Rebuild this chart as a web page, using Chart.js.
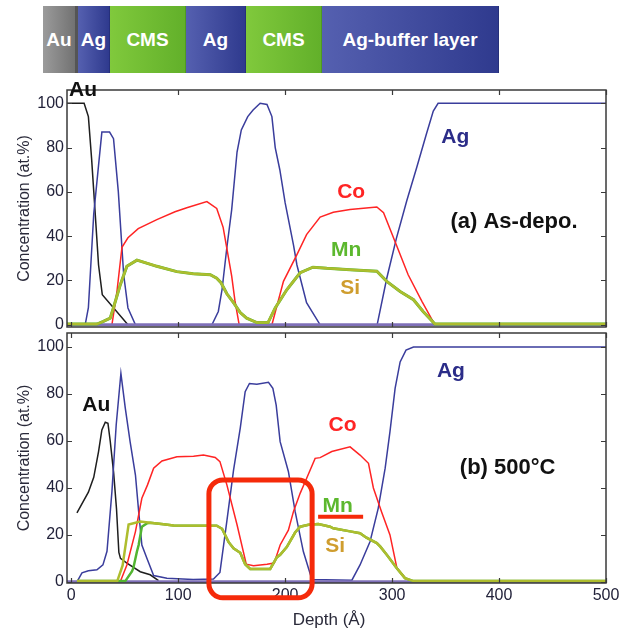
<!DOCTYPE html>
<html>
<head>
<meta charset="utf-8">
<script src="https://cdn.jsdelivr.net/npm/chart.js@4.4.1/dist/chart.umd.min.js"></script>
<style>
  body { margin: 0; background: #fff; }
  #wrap { position: relative; width: 626px; height: 635px; font-family: "Liberation Sans", Arial, sans-serif; }
  canvas { position: absolute; left: 0; }
  .seg { position: absolute; top: 6px; height: 67px; color: #fff; font-weight: bold; font-size: 19px;
         display: flex; align-items: center; justify-content: center; box-sizing: border-box; }
  .au  { background: linear-gradient(to right, #9b9b9b, #727272); border-right: 3px solid #555; }
  .ag  { background: linear-gradient(to right, #5560b0, #2f3a8e); border-right: 1px solid #26307a; }
  .cms { background: linear-gradient(to right, #80c93c, #62b02a); border-right: 1px solid #4e9a20; }
</style>
</head>
<body>
<div id="wrap">
  <div class="seg au"  style="left:43px;width:35px">Au</div>
  <div class="seg ag"  style="left:78px;width:32px">Ag</div>
  <div class="seg cms" style="left:110px;width:76px">CMS</div>
  <div class="seg ag"  style="left:186px;width:60px">Ag</div>
  <div class="seg cms" style="left:246px;width:76px">CMS</div>
  <div class="seg ag"  style="left:322px;width:177px">Ag-buffer layer</div>
  <canvas id="asDepo" width="626" height="257" style="top:75px"></canvas>
  <canvas id="annealed" width="626" height="303" style="top:332px"></canvas>
</div>
<script>
// depth (Å), concentration (at.%)
const depthTicks = [0, 100, 200, 300, 400, 500];
const concTicks = [0, 20, 40, 60, 80, 100];

// (a) as-deposited profiles
const auA = [[-4,100],[12,100],[16,94],[19,75],[22,53],[25.5,27],[29,13.6],[53,0],[500,0]];
const agA = [[-4,0],[13,0],[16,7.7],[21,50],[25.5,72],[28.6,87],[35.8,87],[39.5,84],[44,60],[49,22.6],[53,7.6],[60,0],
  [131.5,0],[137.5,6],[141,16],[145.5,35],[150,52],[155,78],[159,88],[165,94],[170,97],[176.6,100],[183,99.5],
  [187.6,94],[190.7,80],[195,70],[200,55],[207.8,36],[211,27],[220,10],[232.7,0],
  [286,0],[295,21],[304,39],[313.7,56],[323,71],[332,86],[338.5,96.5],[343,100],[500,100]];
const coA = [[-4,0],[38,0],[42.7,15],[47.4,35],[53,39.3],[62.6,43.4],[80,47.5],[97,51],[108,52.8],[126.8,55.6],
  [136,52.5],[142,44],[146,33],[150,22],[153,11],[157,0],
  [187.6,0],[198.4,19.6],[211,31.7],[220,40.7],[232.7,48.6],[245,50.8],[260.7,52],[285.7,53.2],[292,50.6],
  [304,36],[315,22.6],[328,10.5],[340,0],[500,0]];
const mnA = [[-4,0.3],[24,0.3],[30,1.5],[36.4,3],[39,7],[45.8,18],[52,26.4],[61.4,29.2],[80,26.4],[98.7,24],[114,23],
  [130,22.6],[136,21],[140,19],[145.5,14],[151.7,10],[158,5.5],[164,3],[173.5,1],[184,1],[190.7,7.6],[201.5,15.8],
  [214,23.5],[226,26],[239,25.5],[260.7,24.9],[285.7,24.2],[295,19.6],[307.5,15],[320,11.3],[329,6],[340,0.3],[500,0.3]];
const siA = [[-4,0.3],[24,0.3],[30,1.5],[36.4,3],[39,7],[45.8,18],[52,26.4],[61.4,29.2],[80,26.4],[98.7,24],[114,23],
  [130,22.6],[136,21],[140,19],[145.5,14],[151.7,10],[158,5.5],[164,3],[173.5,1],[184,1],[190.7,7.6],[201.5,15.8],
  [214,23.5],[226,26],[239,25.5],[260.7,24.9],[285.7,24.2],[295,19.6],[307.5,15],[320,11.3],[329,6],[340,0.3],[500,0.3]];

// (b) after 500 °C anneal
const auB = [[5.3,29.4],[16,38.2],[21,44.5],[25.5,55.5],[28.6,64.7],[31.8,68],[34.3,67.5],[36.4,60],[39.6,46.5],
  [42.3,31],[44.5,12.5],[46,10],[52,8],[64.5,4.3],[73.8,3],[81.6,0.5]];
const agB = [[5.3,0],[10,3.8],[16,4.7],[24,5.1],[29.6,7.2],[33.4,13],[38,38.4],[42,66.8],[46.4,88.8],[50.5,74],
  [55,59.7],[60,45.5],[63,30],[66,15.7],[70.7,10],[77,2.7],[89.4,1.5],[114,1],[133,1.2],[139,4],[145.5,26],
  [151.7,47.5],[158,65.5],[162.6,81],[166.6,84.5],[173.5,84.2],[184.4,85],[188.5,82.4],[191.6,75.3],[195.3,59.7],
  [203,47],[209.3,30],[217,12.9],[225,1],[262.4,0.7],[270,7.2],[279.4,17.2],[287,31.3],[293.5,48.4],[298,64],
  [302.8,82.4],[307.5,93.7],[313,98.7],[320,100],[500,100]];
const coB = [[5.3,0],[45.8,0],[52,7.2],[60,21.4],[66,35.6],[71.3,41.3],[77,48.4],[84.8,51.5],[98.8,53.3],[114.3,53.5],
  [123.6,54],[134.6,53],[139,51.2],[145.5,41.3],[155,24.3],[163.6,7.5],[170.4,6.9],[183,7.5],[189.7,8],[195.3,15.7],
  [203,22],[207.8,30],[214,37.7],[220,44],[228,52.6],[232.7,52.9],[243.6,55.5],[260.7,57.5],[270,54],[277.9,50.5],
  [282.5,40],[290,30],[298,20],[304.4,6],[312,1.7],[320,0],[500,0]];
const mnB = [[5.3,0.3],[50.5,0.3],[56.7,4.4],[58,5.8],[61.4,12.9],[63,15.7],[66,23.5],[71,25],[73.8,25.2],[86.3,24.5],
  [95.6,24],[136,23.9],[141,22.6],[147,17],[151.7,14.3],[158,12.4],[162.6,7.5],[167.3,5.5],[186,5.5],[192.3,10.5],
  [195.3,11.5],[201.5,14.8],[209.3,21],[214,23.5],[221.8,24.3],[231,24.6],[242,23.5],[245,22.8],[260.7,21.5],
  [270,20.7],[276,18.8],[285.7,16.5],[289,15],[295,11.5],[304.4,5.8],[312,1.6],[320,0.3],[500,0.3]];
const siB = [[5.3,0.3],[43,0.3],[48,7],[53.6,24.4],[64.5,25.7],[73.8,25.2],[86.3,24.5],[95.6,24],[136,23.9],
  [141,22.6],[147,17],[151.7,14.3],[158,12.4],[162.6,7.5],[167.3,5.5],[186,5.5],[192.3,10.5],[195.3,11.5],
  [201.5,14.8],[209.3,21],[214,23.5],[221.8,24.3],[231,24.6],[242,23.5],[245,22.8],[260.7,21.5],[270,20.7],
  [276,18.8],[285.7,16.5],[289,15],[295,11.5],[304.4,5.8],[312,1.6],[320,0.3],[500,0.3]];

// flat trace along the bottom of both panels
const baseline = [[-4,0],[500,0]];

const colors = {
  au: '#1e1e1e', ag: '#3a3d9c', co: '#ff2424', mn: '#52b531', si: '#aebd2e', base: '#7f70b8',
  agText: '#2b2c88', mnText: '#5cb82e', siText: '#cf9d2e', mark: '#f52a0a'
};

const labelsA = [
  {text: 'Au', x: 11, y: 106.1, color: '#111', size: 21},
  {text: 'Ag', x: 359, y: 84.6, color: colors.agText, size: 21},
  {text: 'Co', x: 261.7, y: 59.7, color: colors.co, size: 21},
  {text: '(a) As-depo.', x: 414, y: 46.6, color: '#111', size: 22},
  {text: 'Mn', x: 257, y: 33.5, color: colors.mnText, size: 21},
  {text: 'Si', x: 260.7, y: 16.7, color: colors.siText, size: 21}
];
const labelsB = [
  {text: 'Au', x: 23.4, y: 75.3, color: '#111', size: 21},
  {text: 'Ag', x: 355, y: 89.8, color: colors.agText, size: 21},
  {text: 'Co', x: 253.7, y: 66.8, color: colors.co, size: 21},
  {text: '(b) 500°C', x: 408, y: 48.5, color: '#111', size: 22},
  {text: 'Mn', x: 249, y: 32.3, color: colors.mnText, size: 21},
  {text: 'Si', x: 246.7, y: 15.3, color: colors.siText, size: 21}
];

Chart.defaults.font.family = '"Liberation Sans", Arial, sans-serif';

function trace(data, color, width) {
  return {data: data, borderColor: color, borderWidth: width, pointRadius: 0, tension: 0, fill: false};
}

// box with inward ticks on all sides, then the in-plot labels
const framePlugin = {
  id: 'frame',
  afterDatasetsDraw(chart, args, opts) {
    const ctx = chart.ctx, a = chart.chartArea;
    const x = chart.scales.x, y = chart.scales.y;
    ctx.save();
    ctx.strokeStyle = '#3a3a3a';
    ctx.lineWidth = 1.5;
    ctx.strokeRect(a.left, a.top, a.right - a.left, a.bottom - a.top);
    ctx.lineWidth = 1.2;
    ctx.beginPath();
    depthTicks.forEach(function (v) {
      const px = Math.round(x.getPixelForValue(v)) + 0.5;
      ctx.moveTo(px, a.top); ctx.lineTo(px, a.top + 5);
      ctx.moveTo(px, a.bottom); ctx.lineTo(px, a.bottom - 5);
    });
    concTicks.forEach(function (v) {
      const py = Math.round(y.getPixelForValue(v)) + 0.5;
      ctx.moveTo(a.left, py); ctx.lineTo(a.left + 5, py);
      ctx.moveTo(a.right, py); ctx.lineTo(a.right - 5, py);
    });
    ctx.stroke();

    ctx.textAlign = 'center';
    ctx.textBaseline = 'middle';
    opts.labels.forEach(function (l) {
      ctx.font = 'bold ' + l.size + 'px "Liberation Sans", Arial, sans-serif';
      ctx.fillStyle = l.color;
      ctx.fillText(l.text, x.getPixelForValue(l.x), y.getPixelForValue(l.y));
    });

    if (opts.depthTitle) {
      ctx.font = '17px "Liberation Sans", Arial, sans-serif';
      ctx.fillStyle = '#2a2a3a';
      ctx.fillText('Depth (Å)', 329, chart.height - 15);
    }
    ctx.restore();
  },
  afterDraw(chart, args, opts) {
    const h = opts.highlight;
    if (!h) return;
    const ctx = chart.ctx, x = chart.scales.x, y = chart.scales.y;
    const l = x.getPixelForValue(h.box[0]), r = x.getPixelForValue(h.box[1]);
    const t = y.getPixelForValue(h.box[3]), b = y.getPixelForValue(h.box[2]);
    ctx.save();
    ctx.strokeStyle = colors.mark;
    ctx.lineWidth = 5;
    ctx.beginPath();
    ctx.roundRect(l, t, r - l, b - t, 14);
    ctx.stroke();
    ctx.lineWidth = 4;
    ctx.beginPath();
    ctx.moveTo(x.getPixelForValue(h.line[0]), y.getPixelForValue(h.line[2]));
    ctx.lineTo(x.getPixelForValue(h.line[1]), y.getPixelForValue(h.line[2]));
    ctx.stroke();
    ctx.restore();
  }
};

function makePanel(id, sets, cfg) {
  return new Chart(document.getElementById(id), {
    type: 'line',
    data: {datasets: sets},
    plugins: [framePlugin],
    options: {
      responsive: false,
      animation: false,
      events: [],
      layout: {padding: {top: cfg.padTop, right: 20, left: 0, bottom: 0}},
      plugins: {
        legend: {display: false},
        tooltip: {enabled: false},
        frame: {labels: cfg.labels, highlight: cfg.highlight, depthTitle: cfg.showDepth}
      },
      scales: {
        x: {
          type: 'linear', min: -4, max: 500,
          grid: {display: false, drawTicks: false},
          border: {display: false},
          afterBuildTicks: function (s) { s.ticks = depthTicks.map(function (v) { return {value: v}; }); },
          ticks: {display: cfg.showDepth, padding: 3, color: '#22223a', font: {size: 16}, maxRotation: 0},
          afterFit: function (s) { s.height = cfg.xHeight; s.paddingLeft = 0; s.paddingRight = 0; }
        },
        y: {
          min: cfg.yMin, max: 106,
          grid: {display: false, drawTicks: false},
          border: {display: false},
          afterBuildTicks: function (s) { s.ticks = concTicks.map(function (v) { return {value: v}; }); },
          ticks: {padding: 3, color: '#22223a', font: {size: 16}},
          title: {display: true, text: 'Concentration (at.%)', color: '#2a2a3a', font: {size: 16}, padding: {top: 15, bottom: 0}},
          afterFit: function (s) { s.width = 67; s.paddingTop = 0; s.paddingBottom = 0; }
        }
      }
    }
  });
}

makePanel('asDepo', [
  trace(siA, colors.si, 2.5),
  trace(mnA, colors.mn, 3),
  trace(baseline, colors.base, 3),
  trace(coA, colors.co, 1.5),
  trace(agA, colors.ag, 1.5),
  trace(auA, colors.au, 1.5)
], {padTop: 15, xHeight: 5, yMin: -1, showDepth: false, labels: labelsA});

makePanel('annealed', [
  trace(siB, colors.si, 2.5),
  trace(mnB, colors.mn, 2.5),
  trace(baseline, colors.base, 3),
  trace(coB, colors.co, 1.5),
  trace(agB, colors.ag, 1.5),
  trace(auB, colors.au, 1.5)
], {padTop: 1, xHeight: 52, yMin: -0.5, showDepth: true, labels: labelsB,
    highlight: {box: [128.7, 225.2, -6.8, 43.4], line: [230.8, 272.9, 27.7]}});
</script>
</body>
</html>
